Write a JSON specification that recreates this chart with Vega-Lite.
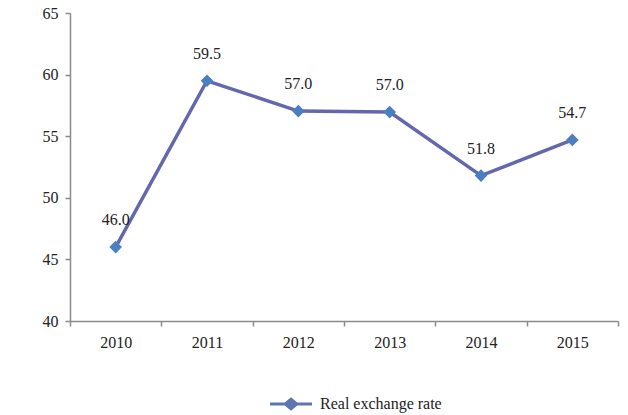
{
  "$schema": "https://vega.github.io/schema/vega-lite/v6.json",
  "width": 548,
  "height": 308,
  "autosize": {"type": "none"},
  "padding": {"left": 70, "top": 13, "right": 10, "bottom": 94},
  "background": "white",
  "config": {
    "view": {"stroke": null},
    "font": "Liberation Serif",
    "axis": {"grid": false, "domainColor": "#8a8a8a", "tickColor": "#8a8a8a", "domainWidth": 1.5, "tickWidth": 1.5, "tickSize": 5, "labelFont": "Liberation Serif", "labelFontSize": 16, "labelColor": "#222222", "title": null},
    "legend": {"labelFont": "Liberation Serif"},
    "text": {"font": "Liberation Serif"}
  },
  "data": {
    "values": [
      {"year": "2010", "rate": 46.0, "series": "Real exchange rate"},
      {"year": "2011", "rate": 59.5, "series": "Real exchange rate"},
      {"year": "2012", "rate": 57.04, "series": "Real exchange rate"},
      {"year": "2013", "rate": 56.96, "series": "Real exchange rate"},
      {"year": "2014", "rate": 51.8, "series": "Real exchange rate"},
      {"year": "2015", "rate": 54.7, "series": "Real exchange rate"}
    ]
  },
  "encoding": {
    "x": {"field": "year", "type": "ordinal", "scale": {"type": "band", "paddingInner": 0, "paddingOuter": 0}, "axis": {"labelAngle": 0, "tickBand": "extent", "labelPadding": 8}},
    "y": {"field": "rate", "type": "quantitative", "scale": {"domain": [40, 65], "nice": false, "zero": false}, "axis": {"values": [40, 45, 50, 55, 60, 65], "labelPadding": 7}}
  },
  "layer": [
    {
      "mark": {"type": "line", "strokeWidth": 3.5},
      "encoding": {
        "color": {"field": "series", "type": "nominal", "scale": {"range": ["#6467ab"]}, "legend": {"orient": "none", "legendX": 200, "legendY": 370, "title": null, "symbolType": "M-1,-0.075H-0.3L0,-0.32L0.3,-0.075H1V0.075H0.3L0,0.32L-0.3,0.075H-1Z", "symbolSize": 1764, "symbolStrokeWidth": 0, "labelFontSize": 16, "labelColor": "#222222", "labelOffset": 8, "encode": {"symbols": {"update": {"fill": {"value": "#5f74b3"}, "strokeWidth": {"value": 0}}}}}}
      }
    },
    {
      "mark": {"type": "point", "shape": "diamond", "filled": true, "size": 160, "color": "#4a7fc0", "opacity": 1}
    },
    {
      "mark": {"type": "text", "dy": -27, "fontSize": 16, "color": "#222222"},
      "encoding": {"text": {"field": "rate", "type": "quantitative", "format": ".1f"}}
    }
  ]
}
